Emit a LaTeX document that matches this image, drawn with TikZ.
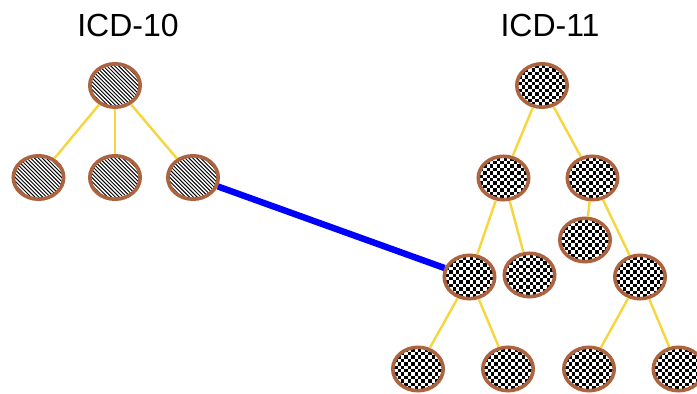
\documentclass[tikz,border=0pt]{standalone}
\usepackage{fontspec}
\setmainfont{Liberation Sans}
\usetikzlibrary{shapes.geometric}
\definecolor{rim}{RGB}{172,100,64}
\definecolor{twig}{RGB}{246,214,60}
\begin{document}
\begin{tikzpicture}[x=0.5pt,y=-0.5pt,
  blob/.style={ellipse,draw=rim,line width=1.8pt,minimum width=25.2pt,minimum height=21.7pt,inner sep=0pt},
  hatchblob/.style={blob,path picture={
    \foreach \k in {-16,...,16}{
      \draw[draw=black,line width=0.48pt] ([shift={(\k*3.85-30,-30)}]path picture bounding box.center) -- ++(60,60);
    }}},
  checkblob/.style={blob,path picture={
    \foreach \i in {-9,...,8}{\foreach \j in {-8,...,7}{
      \pgfmathtruncatemacro\cpar{mod(\i+\j+40,2)}
      \ifnum\cpar=0
        \fill[black] ([shift={(\i*3.4,\j*3.4)}]path picture bounding box.center) rectangle +(3.4,3.4);
      \fi
    }}}},
  twigline/.style={draw=twig,line width=1.2pt},
  bridge/.style={draw=blue,line width=3.2pt},
  title/.style={font=\fontsize{16}{19}\selectfont,inner sep=0pt}]
\useasboundingbox (0,0) rectangle (697,394);
\fill[white] (0,0) rectangle (697,394);
\node[title] (t10) at (128,25) {ICD-10};
\node[title] (t11) at (550,25) {ICD-11};
% ICD-10
\node[hatchblob] (a) at (115,85.5) {};
\node[hatchblob] (a1) at (38.5,177.5) {};
\node[hatchblob] (a2) at (115,177.5) {};
\node[hatchblob] (a3) at (193,177.5) {};
% ICD-11
\node[checkblob] (b) at (542,85.5) {};
\node[checkblob] (b1) at (503.5,178) {};
\node[checkblob] (b2) at (592.5,178) {};
\node[checkblob] (b11) at (469.5,277) {};
\node[checkblob] (b12) at (529.5,275) {};
\node[checkblob] (b21) at (585,240) {};
\node[checkblob] (b22) at (640,277) {};
\node[checkblob] (b111) at (418,369) {};
\node[checkblob] (b112) at (508,369) {};
\node[checkblob] (b221) at (589,369) {};
\node[checkblob] (b222) at (678.5,369) {};
% connectors
\draw[twigline] (a) -- (a1);
\draw[twigline] (a) -- (a2);
\draw[twigline] (a) -- (a3);
\draw[twigline] (b) -- (b1);
\draw[twigline] (b) -- (b2);
\draw[twigline] (b1) -- (b11);
\draw[twigline] (b1) -- (b12);
\draw[twigline] (b2) -- (b21);
\draw[twigline] (b2) -- (b22);
\draw[twigline] (b11) -- (b111);
\draw[twigline] (b11) -- (b112);
\draw[twigline] (b22) -- (b221);
\draw[twigline] (b22) -- (b222);
\draw[bridge] (a3) -- (b11);
\end{tikzpicture}
\end{document}
